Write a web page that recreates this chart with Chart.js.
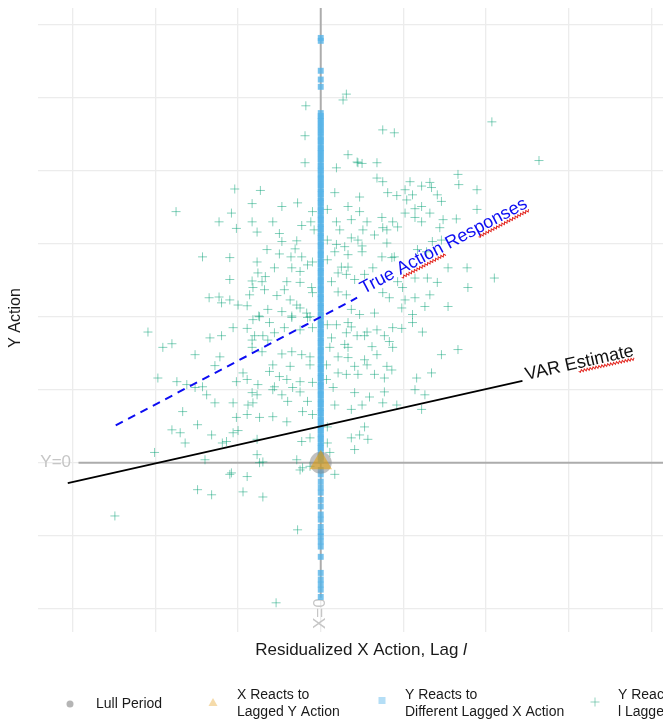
<!DOCTYPE html>
<html>
<head>
<meta charset="utf-8">
<script src="https://cdn.jsdelivr.net/npm/chart.js@4.4.1/dist/chart.umd.min.js"></script>
<style>
  html, body { margin: 0; padding: 0; background: #fff; overflow: hidden; }
</style>
</head>
<body>
<canvas id="chart" width="663" height="721"></canvas>
<script>
// axis ranges and grid ticks
const xRange = [-3.42, 4.14];
const yRange = [-2.32, 6.23];
const xTicks = [-3, -2, -1, 0, 1, 2, 3, 4];
const yTicks = [-2, -1, 0, 1, 2, 3, 4, 5, 6];

// lull period and "X reacts to lagged Y action" sit at the origin
const lullPts = [[0, 0]];
const xReactsPts = [[0, 0]];

// "Y reacts to different lagged X action": all at residualized X = 0
const diffLagY = [5.82, 5.78, 5.37, 5.25, 5.15,
  4.79, 4.75, 4.71, 4.68, 4.63, 4.6, 4.55, 4.52, 4.47, 4.43, 4.4, 4.35, 4.31, 4.27, 4.24, 4.19,
  4.16, 4.11, 4.07, 4.03, 4.0, 3.95, 3.91, 3.88, 3.83, 3.8, 3.75, 3.71, 3.68, 3.63, 3.59, 3.56,
  3.51, 3.47, 3.44, 3.39, 3.35, 3.32, 3.27, 3.23, 3.2, 3.15, 3.11, 3.08, 3.03, 2.99, 2.96, 2.91,
  2.87, 2.84, 2.79, 2.75, 2.72, 2.67, 2.63, 2.6, 2.55, 2.51, 2.48, 2.43, 2.39, 2.36, 2.31, 2.27,
  2.24, 2.19, 2.15, 2.12, 2.07, 2.03, 2.0, 1.95, 1.91, 1.88, 1.83, 1.79, 1.76, 1.71, 1.67, 1.64,
  1.59, 1.55, 1.52, 1.47, 1.43, 1.4, 1.35, 1.31, 1.28, 1.23, 1.19, 1.16, 1.11, 1.07, 1.04, 0.99,
  0.95, 0.92, 0.87, 0.83, 0.8, 0.75, 0.71, 0.68, 0.63, 0.59, 0.56, 0.51, 0.47, 0.44, 0.39, 0.35,
  0.32, 0.27, 0.23, 0.2, 0.15, 0.11, 0.08, 0.03,
  -0.1, -0.16, -0.26, -0.34, -0.41, -0.51, -0.6, -0.71, -0.78, -0.88, -0.95, -1.01, -1.08,
  -1.15, -1.29, -1.51, -1.6, -1.67, -1.74, -1.84];

// "Y reacts to l lagged X action": [x, y]
const lagXY = [
  [-0.19,4.11],[-1.04,3.75],[-0.73,3.73],[-1.75,3.44],[-1.08,3.42],[-0.83,3.55],[-0.47,3.51],[-0.28,3.56],[-1.23,3.30],[-0.83,3.30],
  [-0.58,3.30],[-1.02,3.21],[-0.77,3.16],[-0.23,3.25],[-0.10,3.44],[-0.12,3.30],[-0.08,3.19],[-0.50,3.14],[-0.47,3.03],[-0.29,3.04],
  [-1.43,2.82],[-1.10,2.81],[-0.65,2.92],[-0.50,2.86],[-0.36,2.82],[-0.31,2.93],[-0.23,2.82],[-0.77,2.75],[-0.56,2.67],[-0.35,2.67],
  [-0.25,2.62],[-0.16,2.71],[-0.10,2.75],[-0.76,2.60],[-0.67,2.55],[-1.10,2.51],[-0.83,2.49],[-0.71,2.48],[-0.41,2.48],[-0.25,2.47],
  [-0.82,2.40],[-0.68,2.37],[-0.44,2.37],[-0.11,2.40],[-0.10,2.33],[-0.86,2.30],[-0.53,2.29],[-1.35,2.26],[-1.23,2.27],[-1.10,2.23],
  [-1.20,2.19],[-1.00,2.16],[-0.89,2.15],[-0.64,2.10],[-0.47,2.07],[-0.37,2.23],[-0.29,2.16],[-0.25,2.12],[-0.17,2.05],[-0.75,2.01],
  [-0.35,2.01],[-0.13,2.00],
  [0.19,4.04],[0.45,4.11],[0.68,4.11],[0.68,3.90],[0.75,3.85],[1.08,3.85],[1.22,3.79],[1.32,3.84],[1.34,3.77],[1.66,3.95],
  [1.67,3.81],[1.89,3.74],[0.17,3.70],[0.47,3.64],[0.81,3.70],[0.92,3.66],[1.02,3.74],[1.11,3.67],[1.04,3.60],[1.41,3.67],
  [1.46,3.58],[0.08,3.47],[0.33,3.51],[0.47,3.44],[1.02,3.42],[1.14,3.48],[1.22,3.51],[1.32,3.42],[1.89,3.47],[0.19,3.30],
  [0.37,3.33],[0.56,3.30],[0.74,3.36],[0.87,3.30],[1.14,3.36],[1.22,3.30],[1.48,3.33],[1.64,3.34],[0.23,3.19],[0.51,3.19],
  [0.75,3.22],[0.80,3.19],[0.93,3.23],[1.44,3.22],[0.08,3.05],[0.37,3.08],[0.45,3.05],[0.65,3.12],[0.80,3.01],[1.35,3.03],
  [1.46,3.05],[0.19,2.99],[0.29,2.96],[0.50,2.97],[0.17,2.89],[0.33,2.85],[0.50,2.89],[0.74,2.82],[0.89,2.82],[1.17,2.92],
  [1.28,2.89],[0.08,2.78],[0.25,2.68],[0.33,2.68],[0.63,2.67],[0.86,2.81],[1.54,2.67],[1.77,2.67],[0.21,2.60],[0.31,2.58],
  [0.41,2.51],[0.13,2.48],[0.53,2.58],[0.93,2.48],[1.14,2.53],[1.29,2.53],[1.41,2.47],[2.10,2.53],[0.75,2.33],[0.99,2.40],
  [1.32,2.30],[1.78,2.40],[0.21,2.34],[0.31,2.30],[0.83,2.26],[1.02,2.23],[1.14,2.26],[1.26,2.14],[1.54,2.14],[0.37,2.10],
  [0.47,2.03],[0.65,2.05],[0.98,2.12],[1.11,2.03],
  [-2.09,1.79],[-1.91,1.58],[-1.80,1.63],[-1.52,1.48],[-1.34,1.71],[-1.20,1.74],[-1.06,1.85],[-0.89,1.84],[-0.82,1.96],[-0.74,2.00],
  [-0.62,1.92],[-0.83,1.68],[-0.80,1.74],[-0.70,1.74],[-0.64,1.68],[-0.56,1.78],[-0.44,1.85],[-0.35,1.99],[-0.25,1.82],[-0.16,1.99],
  [-0.10,1.85],[-1.22,1.45],[-1.28,1.33],[-0.83,1.58],[-0.71,1.52],[-0.47,1.49],[-0.35,1.52],[-0.23,1.48],[-0.13,1.45],[-0.58,1.34],
  [-0.37,1.32],[-0.13,1.34],[-1.97,1.16],[-1.74,1.11],[-1.62,1.07],[-1.43,1.04],[-1.02,1.11],[-0.94,1.23],[-0.89,1.14],[-0.76,1.07],
  [-0.62,1.25],[-0.50,1.18],[-0.41,1.14],[-0.25,1.11],[-0.56,1.04],[-0.34,1.03],[-0.10,1.10],[-1.52,1.03],[-1.38,0.93],[-0.83,0.96],
  [-0.77,0.93],[-0.58,1.00],[-0.47,0.93],[-0.40,0.84],[-0.25,0.97],[-0.16,0.84],[-1.28,0.82],[-1.06,0.82],[-0.88,0.79],[-0.82,0.82],
  [-1.67,0.70],[-0.89,0.66],[-0.74,0.62],[-0.58,0.63],[-0.41,0.56],[-0.22,0.70],[-0.10,0.66],[-1.49,0.52],[-1.02,0.62],[-1.80,0.45],
  [-1.70,0.41],[-1.32,0.38],[-1.06,0.41],[-1.00,0.44],[-1.64,0.27],[-1.19,0.27],[-1.14,0.29],[-0.77,0.32],[-0.23,0.29],[-0.13,0.34],
  [-2.01,0.14],[-1.40,0.04],[-0.77,0.11],[-0.29,0.04],[-0.74,0.00],[-0.70,0.01],[-0.22,-0.07],[-1.08,-0.14],
  [0.08,1.89],[0.19,1.89],[0.33,1.92],[0.37,1.86],[0.56,1.79],[0.68,1.82],[0.87,1.85],[0.98,1.84],[1.11,1.92],[1.23,1.79],
  [0.13,1.71],[0.31,1.78],[0.44,1.74],[0.53,1.74],[0.77,1.74],[0.83,1.66],[0.11,1.58],[0.29,1.62],[0.33,1.58],[0.62,1.59],
  [0.68,1.48],[0.87,1.58],[0.21,1.45],[0.33,1.44],[0.53,1.41],[0.07,1.34],[0.41,1.32],[0.56,1.34],[0.80,1.32],[1.46,1.48],
  [1.66,1.55],[0.21,1.23],[0.31,1.21],[0.45,1.21],[0.65,1.21],[0.86,1.27],[0.77,1.16],[1.16,1.16],[1.34,1.23],[0.07,1.14],
  [0.15,1.03],[0.41,0.96],[0.59,0.90],[0.77,0.97],[1.14,1.00],[1.26,0.93],[0.17,0.79],[0.37,0.73],[0.50,0.79],[0.75,0.82],
  [0.92,0.79],[1.22,0.73],[0.53,0.49],[0.08,0.49],[0.37,0.34],[0.47,0.38],[0.57,0.32],[0.08,0.27],[0.41,0.18],[0.11,0.14],
  [-2.49,-0.73],[-1.49,-0.37],[-1.32,-0.44],[-1.10,-0.16],[-0.89,-0.19],[-0.94,-0.40],[-0.70,-0.47],[-0.28,-0.92],[-0.54,-1.92],
  [-0.25,-0.10],[-0.13,-0.05],[0.17,-0.16],
  [-0.18,4.89],[-0.19,4.48],[0.31,5.05],[0.27,4.97],[2.07,4.67],[0.75,4.56],[0.89,4.52],[0.33,4.22],[0.44,4.12],[0.50,4.10],[2.64,4.14]
];

// fitted lines (end points)
const trueLine = [[-2.48, 0.51], [0.44, 2.26]];
const varLine = [[-3.06, -0.28], [2.44, 1.12]];
const yZeroLine = [[-2.93, 0], [4.14, 0]];
const xZeroLine = [[0, -1.85], [0, 6.23]];

const FONT = '"Liberation Sans", Arial, Helvetica, sans-serif';
const pts = a => a.map(p => ({ x: p[0], y: p[1] }));

function squiggle(ctx, x0, x1, y) {
  ctx.save();
  ctx.strokeStyle = '#e3261f';
  ctx.lineWidth = 1;
  ctx.beginPath();
  let up = false;
  ctx.moveTo(x0, y);
  for (let x = x0 + 1.5; x <= x1; x += 1.5) {
    ctx.lineTo(x, up ? y - 1.2 : y + 1.2);
    up = !up;
  }
  ctx.stroke();
  ctx.restore();
}

function lineLabel(chart, line, atX, text, color, words) {
  const { ctx, scales: { x, y } } = chart;
  const x1 = x.getPixelForValue(line[0][0]), y1 = y.getPixelForValue(line[0][1]);
  const x2 = x.getPixelForValue(line[1][0]), y2 = y.getPixelForValue(line[1][1]);
  const ang = Math.atan2(y2 - y1, x2 - x1);
  const slope = (line[1][1] - line[0][1]) / (line[1][0] - line[0][0]);
  const px = x.getPixelForValue(atX);
  const py = y.getPixelForValue(line[0][1] + slope * (atX - line[0][0]));
  ctx.save();
  ctx.translate(px, py);
  ctx.rotate(ang);
  ctx.font = '18px ' + FONT;
  ctx.fillStyle = color;
  ctx.textAlign = 'left';
  ctx.textBaseline = 'alphabetic';
  ctx.fillText(text, 0, 0);
  words.forEach(w => {
    const i = text.indexOf(w);
    const s = ctx.measureText(text.slice(0, i)).width;
    const e = s + ctx.measureText(w).width;
    squiggle(ctx, s, e, 3);
  });
  ctx.restore();
}

const decor = {
  id: 'decor',
  beforeDatasetsDraw(chart) {
    const { ctx, scales: { x, y } } = chart;
    ctx.save();
    ctx.fillStyle = '#c6c6c6';
    ctx.font = '17px ' + FONT;
    ctx.textAlign = 'right';
    ctx.textBaseline = 'middle';
    ctx.fillText('Y=0', x.getPixelForValue(-3.02), y.getPixelForValue(0));
    ctx.translate(x.getPixelForValue(0), y.getPixelForValue(-2.07));
    ctx.rotate(-Math.PI / 2);
    ctx.textAlign = 'center';
    ctx.fillText('X=0', 0, 0);
    ctx.restore();
  },
  afterDatasetsDraw(chart) {
    lineLabel(chart, trueLine, 0.52, 'True Action Responses', '#0d0df2', ['Action', 'ponses']);
    lineLabel(chart, varLine, 2.49, 'VAR Estimate', '#111', ['stimate']);
  },
  afterDraw(chart) {
    const ctx = chart.ctx;
    ctx.save();
    ctx.fillStyle = '#1a1a1a';
    // y title
    ctx.font = '16px ' + FONT;
    ctx.textBaseline = 'middle';
    ctx.save();
    ctx.translate(16, 318);
    ctx.rotate(-Math.PI / 2);
    ctx.textAlign = 'center';
    ctx.fillText('Y Action', 0, 0);
    ctx.restore();
    // x title with italic l
    const a = 'Residualized X Action, Lag ';
    ctx.font = '17px ' + FONT;
    const wa = ctx.measureText(a).width;
    ctx.font = 'italic 17px ' + FONT;
    const wb = ctx.measureText('l').width;
    const x0 = 361 - (wa + wb) / 2;
    ctx.textAlign = 'left';
    ctx.font = '17px ' + FONT;
    ctx.fillText(a, x0, 650);
    ctx.font = 'italic 17px ' + FONT;
    ctx.fillText('l', x0 + wa, 650);

    // legend
    ctx.font = '14px ' + FONT;
    ctx.fillStyle = '#1a1a1a';
    ctx.fillText('Lull Period', 96, 704);
    [[237, 'X Reacts to', 'Lagged Y Action'], [405, 'Y Reacts to', 'Different Lagged X Action'],
     [618, 'Y Reacts to', 'l Lagged X Action']].forEach(t => {
      ctx.fillText(t[1], t[0], 695);
      ctx.fillText(t[2], t[0], 712);
    });
    ctx.fillStyle = 'rgba(150,150,150,0.7)';
    ctx.beginPath(); ctx.arc(70, 704, 3.5, 0, Math.PI * 2); ctx.fill();
    ctx.fillStyle = 'rgba(236,190,100,0.55)';
    ctx.beginPath(); ctx.moveTo(213, 698); ctx.lineTo(217.5, 706); ctx.lineTo(208.5, 706); ctx.closePath(); ctx.fill();
    ctx.fillStyle = 'rgba(130,200,240,0.6)';
    ctx.fillRect(378.5, 697, 7, 7);
    ctx.strokeStyle = 'rgba(60,175,140,0.55)';
    ctx.lineWidth = 1;
    ctx.beginPath(); ctx.moveTo(590.5, 702); ctx.lineTo(599.5, 702); ctx.moveTo(595, 697.5); ctx.lineTo(595, 706.5); ctx.stroke();
    ctx.restore();
  }
};

const gridScale = (range, ticks) => ({
  type: 'linear',
  min: range[0],
  max: range[1],
  afterBuildTicks: ax => { ax.ticks = ticks.map(v => ({ value: v })); },
  ticks: { display: false },
  grid: { color: '#ececec', lineWidth: 1.3, drawTicks: false },
  border: { display: false },
  title: { display: false }
});

new Chart(document.getElementById('chart'), {
  type: 'scatter',
  data: {
    datasets: [
      { data: pts(yZeroLine), showLine: true, pointRadius: 0, borderColor: 'rgba(165,165,165,0.9)', borderWidth: 2, order: 10 },
      { data: pts(xZeroLine), showLine: true, pointRadius: 0, borderColor: 'rgba(165,165,165,0.9)', borderWidth: 2, order: 10 },
      { label: 'Y Reacts to l Lagged X Action', data: pts(lagXY), pointStyle: 'cross', pointRadius: 4.5,
        borderColor: 'rgba(0,158,115,0.48)', borderWidth: 1, order: 8 },
      { label: 'Y Reacts to Different Lagged X Action', data: diffLagY.map(v => ({ x: 0, y: v })), pointStyle: 'rect',
        pointRadius: 4.2, backgroundColor: 'rgba(86,180,233,0.8)', borderWidth: 0, order: 6 },
      { label: 'Lull Period', data: pts(lullPts), pointStyle: 'circle', pointRadius: 11,
        backgroundColor: 'rgba(140,140,140,0.55)', borderWidth: 0, order: 4 },
      { label: 'X Reacts to Lagged Y Action', data: pts(xReactsPts), pointStyle: 'triangle', pointRadius: 13,
        backgroundColor: 'rgba(230,159,0,0.55)', borderWidth: 0, order: 3 },
      { data: pts(varLine), showLine: true, pointRadius: 0, borderColor: '#000', borderWidth: 1.8, order: 2 },
      { data: pts(trueLine), showLine: true, pointRadius: 0, borderColor: '#0d0df2', borderWidth: 2,
        borderDash: [8, 6], order: 1 }
    ]
  },
  options: {
    responsive: false,
    animation: false,
    devicePixelRatio: 1,
    layout: { autoPadding: false, padding: { left: 38, top: 8, right: 0, bottom: 89 } },
    plugins: { legend: { display: false }, tooltip: { enabled: false } },
    scales: { x: gridScale(xRange, xTicks), y: gridScale(yRange, yTicks) }
  },
  plugins: [decor]
});
</script>
</body>
</html>
